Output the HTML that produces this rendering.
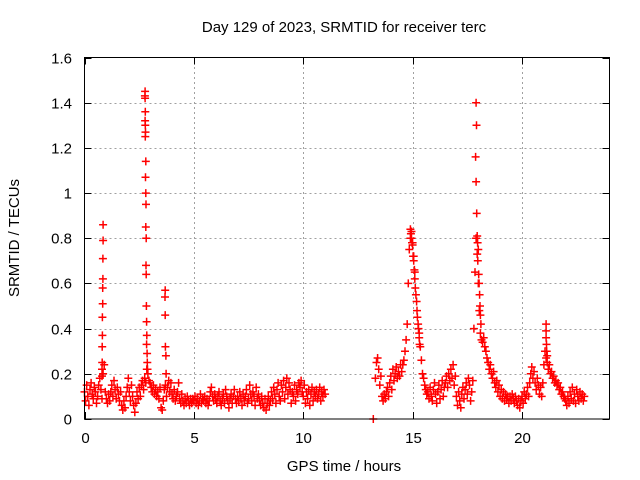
<!DOCTYPE html>
<html><head><meta charset="utf-8"><style>
html,body{margin:0;padding:0;background:#fff;}
svg{display:block;font-family:"Liberation Sans",sans-serif;}
</style></head><body>
<svg id="chart" width="640" height="480" viewBox="0 0 640 480" xmlns="http://www.w3.org/2000/svg">
<rect width="640" height="480" fill="#fff"/>
<text x="344" y="32" font-size="15" text-anchor="middle" fill="#000">Day 129 of 2023, SRMTID for receiver terc</text>
<text x="344" y="471" font-size="15" text-anchor="middle" fill="#000">GPS time / hours</text>
<text transform="translate(19,238) rotate(-90)" font-size="15" text-anchor="middle" fill="#000">SRMTID / TECUs</text>
<g id="grid"></g>
<g id="ticks"></g>
<g id="marks"></g>
<rect x="84.5" y="57.5" width="525" height="361.5" fill="none" stroke="#000" stroke-width="1"/>
</svg>
<script>
const xTicks=[0,5,10,15,20];
const yTicks=[0,0.2,0.4,0.6,0.8,1,1.2,1.4,1.6];
const yTickLabels=["0","0.2","0.4","0.6","0.8","1","1.2","1.4","1.6"];
const seg1Start=0;
const seg1Vals=[0.12,0.08,0.15,0.10,0.06,0.13,0.16,0.11,0.09,0.14,0.12,0.07,0.10,0.15,0.18,0.13,0.09,0.20,0.24,0.12,
0.09,0.07,0.11,0.08,0.12,0.15,0.10,0.17,0.13,0.09,0.14,0.11,0.08,0.12,0.06,0.04,0.08,0.05,0.10,0.14,
0.18,0.12,0.08,0.15,0.10,0.06,0.03,0.07,0.12,0.09,0.14,0.10,0.15,0.17,0.13,0.18,0.16,0.22,0.20,0.17,
0.16,0.14,0.12,0.15,0.11,0.13,0.10,0.12,0.09,0.14,0.05,0.04,0.08,0.13,0.15,0.10,0.14,0.17,0.12,0.16,
0.11,0.09,0.13,0.08,0.10,0.12,0.16,0.09,0.07,0.11,0.08,0.06,0.09,0.07,0.10,0.08,0.06,0.09,0.07,0.09,
0.08,0.10,0.07,0.09,0.06,0.08,0.11,0.07,0.09,0.08,0.10,0.07,0.09,0.06,0.08,0.12,0.14,0.10,0.08,0.11,
0.09,0.07,0.10,0.12,0.08,0.06,0.09,0.11,0.07,0.13,0.10,0.08,0.05,0.09,0.11,0.07,0.10,0.13,0.09,0.07,
0.10,0.08,0.12,0.09,0.06,0.11,0.08,0.10,0.13,0.07,0.09,0.15,0.11,0.08,0.12,0.10,0.06,0.14,0.09,0.11,
0.08,0.06,0.10,0.07,0.05,0.09,0.04,0.07,0.10,0.06,0.08,0.12,0.09,0.14,0.11,0.07,0.13,0.16,0.10,0.08,
0.15,0.12,0.17,0.09,0.14,0.18,0.11,0.16,0.13,0.07,0.12,0.10,0.15,0.08,0.13,0.11,0.16,0.14,0.17,0.12,
0.10,0.15,0.07,0.12,0.09,0.13,0.06,0.11,0.14,0.08,0.12,0.10,0.13,0.09,0.11,0.14,0.08,0.12,0.10,0.13,0.11];
const seg2Start=13.3;
const seg2Vals=[0.18,0.25,0.27,0.22,0.15,0.19,0.10,0.08,0.11,0.09,0.12,0.14,0.10,0.16,
0.19,0.13,0.22,0.17,0.20,0.23,0.18,0.21,0.19,0.24,
0.21,0.24,0.26,0.30,0.35,0.42,0.60,0.75,0.80,0.83,0.78,0.72,0.65,0.55,0.48,0.42,0.38,0.32,0.26,0.20,
0.18,0.15,0.13,0.11,0.12,0.09,0.14,0.10,0.08,0.13,0.16,0.11,0.07,0.12,0.15,0.09,0.13,0.17,0.10,0.14,
0.16,0.19,0.14,0.20,0.17,0.22,0.18,0.24,0.15,0.19,
0.10,0.06,0.12,0.08,0.05,0.11,0.14,0.09,0.13,0.16,0.11,0.18,0.15,0.08,0.12,0.17,
0.40,0.65,0.80,0.73,0.60,0.48,0.38,0.35,0.34,0.36,0.32,0.30,
0.27,0.25,0.22,0.24,0.20,0.18,0.21,0.16,0.14,0.17,0.12,0.15,0.10,0.13,0.09,0.12,0.08,0.11,0.09,0.10,0.07,0.10,0.08,0.11,0.09,0.07,0.10,0.08,0.06,0.09,0.05,0.08,
0.10,0.07,0.12,0.09,0.11,0.14,0.10,0.16,0.20,0.23,0.18,0.21,0.16,0.13,0.18,0.15,0.11,0.14,0.10,0.16,
0.24,0.30,0.27,0.25,0.22,0.24,0.20,0.21,0.18,0.19,0.16,0.17,0.15,0.16,0.13,0.14,0.11,0.12,0.10,0.09,
0.08,0.06,0.10,0.07,0.12,0.09,0.14,0.08,0.11,0.07,0.13,0.10,0.08,0.12,0.09,0.11,0.08,0.10];
const spikeT=[0.85,0.85,0.84,0.84,0.83,0.83,0.82,0.82,0.81,0.81,0.80,0.80,
2.77,2.76,2.77,2.78,2.77,2.78,2.79,2.78,2.80,2.79,2.80,2.81,2.80,2.82,2.81,2.82,2.83,2.84,2.85,2.84,2.86,2.87,2.88,
3.69,3.68,3.69,3.70,3.72,3.73,
13.2,
14.9,14.92,14.95,14.97,15.0,15.02,15.05,15.08,15.1,15.12,15.15,15.18,15.2,15.22,15.25,15.27,15.3,15.32,
17.9,17.92,17.88,17.9,17.93,17.95,17.97,18.0,17.98,18.02,18.04,18.06,18.08,18.1,18.12,
21.1,21.1,21.1,21.12,21.13,21.15];
const spikeV=[0.86,0.79,0.71,0.62,0.58,0.51,0.45,0.37,0.32,0.25,0.22,0.19,
1.45,1.43,1.42,1.36,1.32,1.30,1.27,1.25,1.14,1.07,1.00,0.95,0.85,0.80,0.68,0.64,0.50,0.43,0.37,0.33,0.29,0.25,0.22,
0.57,0.54,0.46,0.32,0.28,0.20,
0.0,
0.84,0.82,0.80,0.78,0.77,0.72,0.70,0.66,0.62,0.58,0.55,0.52,0.48,0.45,0.42,0.40,0.36,0.33,
1.40,1.30,1.16,1.05,0.91,0.81,0.78,0.75,0.70,0.64,0.60,0.55,0.50,0.46,0.42,
0.42,0.39,0.36,0.33,0.30,0.28];
const dt=0.05;
const X0=84.5,X1=609.5,Y0=419,Y1=57.5,XMAX=24,YMAX=1.6;
function xs(t){return X0+(X1-X0)*t/XMAX;}
function ys(v){return Y0-(Y0-Y1)*v/YMAX;}
const NS='http://www.w3.org/2000/svg';
function mk(tag,attrs,parent){const e=document.createElementNS(NS,tag);for(const k in attrs)e.setAttribute(k,attrs[k]);parent.appendChild(e);return e;}
const grid=document.getElementById('grid'),ticks=document.getElementById('ticks'),marks=document.getElementById('marks');
xTicks.forEach(t=>{const x=Math.round(xs(t))+0.5;
 if(t>0){const g=mk('line',{x1:x,y1:Y0,x2:x,y2:Y1,stroke:'#a0a0a0','stroke-dasharray':'2,3'},grid);
 
 }
 mk('line',{x1:x,y1:Y0,x2:x,y2:Y0-7,stroke:'#000'},ticks);
 mk('line',{x1:x,y1:Y1,x2:x,y2:Y1+7,stroke:'#000'},ticks);
 const l=mk('text',{x:x,y:443,'font-size':15,'text-anchor':'middle'},ticks);l.textContent=t;
 
 
});
yTicks.forEach((v,i)=>{const y=Math.round(ys(v))+0.5;
 if(v>0&&v<YMAX){const g=mk('line',{x1:X0,y1:y,x2:X1,y2:y,stroke:'#a0a0a0','stroke-dasharray':'2,3'},grid);
 
 }
 mk('line',{x1:X0,y1:y,x2:X0+7,y2:y,stroke:'#000'},ticks);
 mk('line',{x1:X1,y1:y,x2:X1-7,y2:y,stroke:'#000'},ticks);
 const l=mk('text',{x:72,y:y+5,'font-size':15,'text-anchor':'end'},ticks);l.textContent=yTickLabels[i];
 
 
});
let d='';
function plus(t,v){const x=xs(t),y=ys(v);d+=`M${(x-4).toFixed(1)} ${y.toFixed(1)}h8M${x.toFixed(1)} ${(y-4).toFixed(1)}v8`;}
seg1Vals.forEach((v,i)=>plus(seg1Start+i*dt,v));
seg2Vals.forEach((v,i)=>plus(seg2Start+i*dt,v));
spikeT.forEach((t,i)=>plus(t,spikeV[i]));
const p=mk('path',{d:d,stroke:'#ff0000','stroke-width':1.5,fill:'none'},marks);


</script>
</body></html>
